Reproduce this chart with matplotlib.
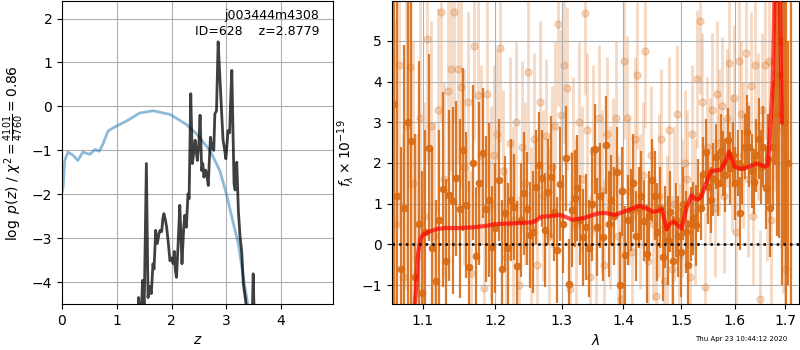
import numpy as np
import matplotlib
matplotlib.use('Agg')
import matplotlib.pyplot as plt
from matplotlib.ticker import FixedLocator, FixedFormatter, NullLocator

# ---- p(z) panel ----
z_grid = [0.0, 0.02, 0.05, 0.11, 0.20, 0.29, 0.38, 0.51, 0.60, 0.68, 0.75, 0.84,
          0.96, 1.18, 1.42, 1.66, 1.97, 2.27, 2.45, 2.70, 2.88, 3.00, 3.10,
          3.22, 3.31, 3.39, 3.45]
prior_logp = [-1.95, -1.84, -1.23, -1.04, -1.11, -1.23, -1.04, -1.09, -0.98, -1.02,
              -0.85, -0.56, -0.47, -0.33, -0.15, -0.10, -0.18, -0.41, -0.62, -1.00,
              -1.46, -1.99, -2.52, -3.13, -3.89, -4.50, -5.00]

z_fit = [1.38, 1.40, 1.42, 1.45, 1.47, 1.50, 1.54, 1.57, 1.60, 1.63, 1.66, 1.68,
         1.71, 1.74, 1.77, 1.79, 1.82, 1.84, 1.86, 1.89, 1.91, 1.94, 1.97, 2.00,
         2.03, 2.05, 2.07, 2.09, 2.12, 2.15, 2.17, 2.19, 2.22, 2.24, 2.27, 2.30,
         2.32, 2.35, 2.38, 2.40, 2.43, 2.45, 2.47, 2.50, 2.52, 2.55, 2.57, 2.59,
         2.62, 2.64, 2.67, 2.69, 2.71, 2.73, 2.75, 2.77, 2.79, 2.82, 2.85, 2.88,
         2.90, 2.92, 2.94, 2.97, 2.99, 3.01, 3.03, 3.06, 3.08, 3.10, 3.12, 3.14,
         3.16, 3.19, 3.22, 3.25, 3.28, 3.31, 3.35, 3.38, 3.42, 3.47, 3.49, 3.51]
fit_logp = [-4.8, -4.35, -4.9, -4.7, -3.96, -4.6, -1.3, -4.35, -4.1, -4.26, -3.58, -3.7,
            -2.82, -3.12, -2.9, -2.82, -2.85, -2.56, -2.44, -2.6, -2.75, -3.1, -3.51, -3.45,
            -3.58, -3.3, -3.75, -3.89, -3.12, -2.25, -2.9, -3.58, -2.8, -2.48, -2.75, -1.99,
            -2.1, 0.29, -1.30, -1.1, -0.77, -1.0, -1.23, -0.8, -0.20, -1.46, -1.3, -1.61,
            -1.45, -1.53, -1.80, -1.2, -0.70, -0.95, -0.85, -1.0, -0.17, -0.1, 1.47, 0.7,
            0.21, -0.3, -0.77, -1.0, -1.19, -0.9, -0.55, -0.6, 0.2, 0.82, -0.5, -1.76,
            -1.9, -1.27, -2.4, -2.97, -3.3, -4.04, -4.4, -4.8, -5.0, -4.9, -3.81, -4.9]

# ---- spectrum panel ----
# grism pixel grid (46 A sampling) for the two exposures
lam_start_a, lam_start_b, dlam = 1.0625, 1.0648, 0.0046

flux_a = [3.45, 1.2, -0.6, 0.9, 3.0, 2.54, -0.8, 0.5, -1.2, 0.3,
          2.37, -0.1, -0.9, 0.6, 1.35, -0.4, 1.21, 1.07, 1.62, 0.87,
          2.33, 0.97, -0.55, 2.01, -0.29, 1.50, 2.24, 0.87, 1.09, -0.06,
          0.4, 1.58, -0.6, 0.76, -0.1, 1.1, 0.92, -0.53, 0.6, 1.25,
          0.88, 0.23, 0.3, 1.42, 1.95, 1.62, 0.35, 1.29, 1.66, 0.80,
          -0.14, 1.48, 0.5, 2.11, -0.98, 0.84, 1.13, 1.38, 0.6, 0.17,
          0.43, -0.1, 1.0, 2.34, 0.43, 1.2, 0.19, 2.44, 0.5, 1.09,
          0.7, 1.78, -1.0, 1.3, -0.26, 0.6, 0.84, 1.5, 0.2, 0.9,
          1.2, 0.58, -0.24, 0.7, 1.58, 1.2, 0.3, 0.9, -0.3, 0.43,
          0.1, 0.8, -0.4, 0.6, 0.2, -0.2, 1.0, 0.3, -0.5, 0.5,
          0.64, 0.47, 1.2, 0.9, 1.74, 2.28, 1.4, 1.09, 1.6, 2.15,
          1.5, 2.3, 1.99, 1.7, 2.56, 1.87, 2.2, 1.5, 2.0, 0.76,
          1.9, 2.4, 2.77, 2.40, 1.8, 1.54, 2.19, 2.6, 1.9, 2.40,
          1.38, 2.1, 0.9, 2.4, 3.96, 3.2, 4.16, 5.0, 3.0, 6.8,
          2.0, -2.2]
err_a = [8, 6, 3, 4, 9, 7, 3.5, 4, 3, 2.5,
         2.3, 2.5, 2.0, 2.2, 2.4, 2.0, 2.1, 2.3, 1.9, 2.2,
         2.0, 1.8, 2.1, 1.9, 1.7, 2.0, 1.6, 1.8, 1.9, 1.5,
         1.6, 1.5, 1.7, 1.4, 1.6, 1.5, 1.3, 1.6, 1.4, 1.5,
         1.4, 1.3, 1.5, 1.4, 1.3, 1.2, 1.4, 1.3, 1.5, 1.2,
         1.3, 1.4, 1.2, 1.3, 1.1, 1.4, 1.2, 1.3, 1.1, 1.2,
         1.3, 1.2, 1.4, 1.1, 1.2, 1.3, 1.1, 1.2, 1.3, 1.1,
         1.2, 1.1, 1.3, 1.1, 1.2, 1.1, 1.0, 1.2, 1.1, 1.0,
         1.1, 1.0, 1.2, 1.1, 1.0, 1.1, 1.2, 1.0, 1.1, 1.0,
         1.1, 1.0, 1.1, 0.9, 1.0, 1.1, 0.9, 1.0, 1.1, 0.9,
         0.9, 1.0, 0.9, 0.8, 0.9, 0.8, 0.9, 0.8, 0.9, 0.8,
         0.8, 0.9, 0.8, 0.9, 0.8, 0.9, 0.8, 0.9, 0.8, 0.9,
         0.9, 0.8, 0.9, 1.0, 0.9, 0.8, 0.9, 1.0, 0.9, 1.0,
         1.0, 1.1, 1.2, 1.5, 2.0, 3.0, 4.0, 6.0, 3.0, 9.0,
         3.0, 9.0]

flux_b = [0.5, 4.4, -0.8, 2.9, 4.36, 1.5, -0.3, 3.1, 0.7, 5.04,
          2.9, 0.2, 3.3, 5.7, 1.6, 3.77, 4.3, 5.7, 4.32, 3.86,
          1.9, 3.5, -0.7, 4.87, 3.67, 2.2, -1.08, 3.7, 1.0, 2.2,
          2.70, 4.82, 1.8, -0.3, 2.5, 0.6, 3.0, -1.0, 2.4, 1.5,
          4.23, 0.4, 2.6, -0.5, 3.5, 1.2, 2.65, 0.2, 1.9, 2.9,
          5.41, 3.18, 4.40, 3.83, -1.1, 2.2, 0.5, 3.0, 1.6, 5.68,
          2.8, -0.8, 2.3, 0.4, 3.1, 1.3, -0.5, 2.7, 0.9, 1.8,
          3.1, 0.2, -1.34, 4.50, 3.11, 1.3, -0.2, 2.6, 4.15, 0.8,
          1.7, 4.75, -0.4, 2.2, 0.5, -1.26, 1.2, 2.6, -0.9, 0.3,
          2.8, -0.6, 1.0, 3.2, -0.3, 0.9, 2.0, 1.6, -0.8, 2.7,
          0.8, 4.06, 5.49, 3.5, -1.04, 2.4, 1.8, 3.3, 0.9, 3.7,
          2.5, 3.4, 1.2, 3.1, 4.46, 2.0, 3.6, 0.3, 4.5, 3.2,
          2.2, 4.69, 1.6, 3.9, 0.7, 4.41, 2.9, -1.34, 3.3, 4.4,
          1.4, 4.5, 0.6, 3.7, 4.2, 5.0, 3.4, 2.8, -0.6]
err_b = [5, 4, 3.5, 4, 3, 3.5, 3, 3, 2.8, 3,
         2.6, 2.8, 2.5, 2.7, 2.4, 2.6, 2.5, 2.7, 2.3, 2.5,
         2.4, 2.2, 2.5, 2.3, 2.4, 2.2, 2.1, 2.3, 2.4, 2.2,
         2.1, 2.3, 2.0, 2.2, 2.1, 2.3, 2.0, 2.2, 2.1, 2.0,
         2.2, 2.0, 2.1, 2.3, 2.0, 2.1, 1.9, 2.2, 2.0, 2.1,
         2.0, 2.1, 1.9, 2.0, 2.2, 1.9, 2.1, 2.0, 1.8, 2.0,
         1.9, 2.0, 2.1, 1.9, 1.8, 2.0, 2.1, 1.9, 2.0, 1.8,
         1.9, 2.0, 1.8, 1.9, 2.0, 1.8, 1.9, 2.0, 1.8, 1.9,
         1.8, 1.9, 2.0, 1.7, 1.9, 1.8, 2.0, 1.7, 1.8, 1.9,
         1.8, 1.8, 1.9, 1.7, 1.8, 1.7, 1.8, 1.7, 1.9, 1.7,
         1.8, 1.7, 1.8, 1.7, 1.8, 1.7, 1.8, 1.9, 1.7, 1.8,
         1.8, 1.7, 1.9, 1.7, 1.8, 1.7, 1.8, 1.9, 1.7, 1.8,
         1.8, 1.7, 1.9, 1.8, 1.7, 1.9, 1.8, 1.7, 1.9, 1.8,
         1.8, 2.0, 2.2, 2.4, 2.6, 3.0, 3.5, 4.0, 4.5]

model_lam = [1.088, 1.091, 1.094, 1.097, 1.100, 1.105, 1.112, 1.120, 1.130, 1.150,
             1.170, 1.190, 1.201, 1.220, 1.244, 1.255, 1.262, 1.269, 1.280, 1.297,
             1.305, 1.317, 1.335, 1.358, 1.370, 1.386, 1.400, 1.415, 1.427, 1.440,
             1.450, 1.460, 1.466, 1.4745, 1.480, 1.486, 1.494, 1.501, 1.510, 1.519,
             1.525, 1.531, 1.537, 1.546, 1.555, 1.573, 1.583, 1.589, 1.5995, 1.610,
             1.622, 1.643, 1.659, 1.665, 1.668, 1.6745, 1.678, 1.682, 1.688, 1.691,
             1.693]
model_flux = [-1.8, -1.2, -0.25, 0.12, 0.22, 0.28, 0.33, 0.38, 0.40, 0.40,
              0.42, 0.46, 0.50, 0.51, 0.53, 0.54, 0.60, 0.68, 0.69, 0.72,
              0.68, 0.60, 0.65, 0.76, 0.77, 0.72, 0.80, 0.88, 0.95, 0.88,
              0.80, 0.82, 0.86, 0.37, 0.50, 0.56, 0.48, 0.39, 0.90, 1.21,
              1.12, 1.10, 1.17, 1.50, 1.80, 1.83, 2.05, 2.28, 1.91, 1.85,
              1.88, 1.99, 1.91, 1.95, 2.48, 3.96, 6.0, 7.5, 7.0, 4.5,
              3.0]

lam_a = lam_start_a + dlam * np.arange(len(flux_a))
lam_b = lam_start_b + dlam * np.arange(len(flux_b))

fig = plt.figure(figsize=(8, 3.5), dpi=100)
ax1 = fig.add_axes([0.0775, 0.131, 0.339, 0.865])
ax2 = fig.add_axes([0.4896, 0.131, 0.5096, 0.865])

# left: redshift probability
ax1.plot(z_grid, prior_logp, color='tab:blue', alpha=0.5, lw=2)
ax1.plot(z_fit, fit_logp, color='k', alpha=0.75, lw=2)
ax1.set_xlim(0, 4.95)
ax1.set_ylim(-4.5, 2.39)
ax1.set_xticks([0, 1, 2, 3, 4])
ax1.set_yticks([-4, -3, -2, -1, 0, 1, 2])
ax1.grid(True)
ax1.set_xlabel('$z$')
ax1.set_ylabel(r'$\log\ p(z)$ / $\chi^2=\frac{4101}{4760}=0.86$')
ax1.text(0.95, 0.975, 'j003444m4308\nID=628    z=2.8779', transform=ax1.transAxes,
         ha='right', va='top', fontsize=9, linespacing=1.3)

# right: 1D spectrum
orange = (0.85, 0.42, 0.08)
ax2.errorbar(lam_b, flux_b, yerr=err_b, marker='o', linestyle='none', color=orange,
             alpha=0.25, ms=5, elinewidth=2.0, zorder=1)
ax2.errorbar(lam_a, flux_a, yerr=err_a, marker='o', linestyle='none', color=orange,
             alpha=0.9, ms=4.5, elinewidth=1.6, zorder=2)
ax2.plot(model_lam, model_flux, color='r', alpha=0.7, lw=3, zorder=3)
ax2.axhline(0, color='k', linestyle=':', lw=1.8, zorder=4)

ax2.set_xscale('log')
ax2.set_xlim(1.06, 1.729)
ax2.set_ylim(-1.47, 5.97)
ax2.xaxis.set_minor_locator(NullLocator())
ticks = [1.1, 1.2, 1.3, 1.4, 1.5, 1.6, 1.7]
ax2.xaxis.set_major_locator(FixedLocator(ticks))
ax2.xaxis.set_major_formatter(FixedFormatter([str(t) for t in ticks]))
ax2.set_yticks([-1, 0, 1, 2, 3, 4, 5])
ax2.grid(True)
ax2.set_xlabel(r'$\lambda$')
ax2.set_ylabel(r'$f_\lambda\times10^{-19}$')

fig.text(0.984, 0.031, 'Thu Apr 23 10:44:12 2020', ha='right', va='center', fontsize=5)

fig.savefig('out.png', dpi=100)
